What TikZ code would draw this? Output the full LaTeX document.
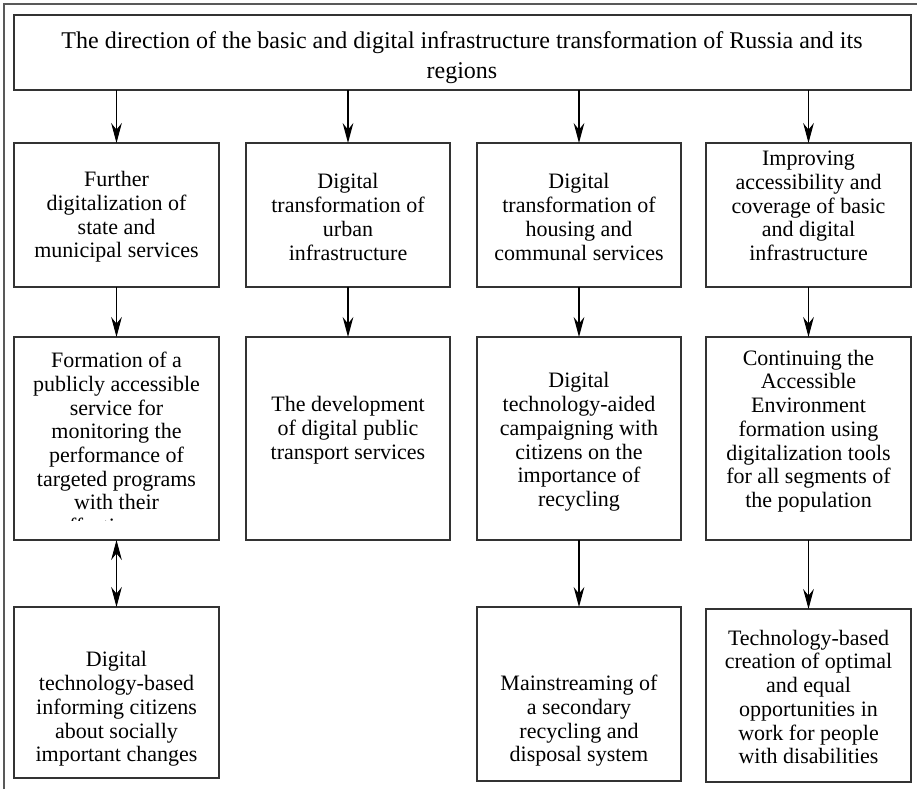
\documentclass[tikz,border=0pt]{standalone}
\usepackage{fontspec}
\setmainfont{Liberation Serif}
\usetikzlibrary{arrows.meta}
\begin{document}
\begin{tikzpicture}[x=0.75pt,y=-0.75pt,
  box/.style={draw=black!80,line width=1pt,inner sep=0pt,outer sep=0pt,anchor=north west},
  txt/.style={align=center,inner sep=0pt,font=\fontsize{16.5}{17.8}\selectfont},
  toptxt/.style={align=center,inner sep=0pt,font=\fontsize{18}{22.5}\selectfont},
  arr/.style={-{Stealth[length=15pt,width=8pt,inset=5pt]},line width=0.8pt},
  darr/.style={{Stealth[length=15pt,width=8pt,inset=5pt]}-{Stealth[length=15pt,width=8pt,inset=5pt]},line width=0.8pt},
  frame/.style={draw=black!65,line width=1.2pt}
]
\useasboundingbox (0,0) rectangle (917,789);
\draw[frame] (4,789) -- (4,4) -- (917,4);

% boxes
\node[box,minimum width=897*0.75pt,minimum height=75*0.75pt] (top) at (14,15) {};
\node[box,minimum width=205*0.75pt,minimum height=144*0.75pt] (b11) at (14,143) {};
\node[box,minimum width=204*0.75pt,minimum height=144*0.75pt] (b12) at (246,143) {};
\node[box,minimum width=204*0.75pt,minimum height=144*0.75pt] (b13) at (477,143) {};
\node[box,minimum width=205*0.75pt,minimum height=144*0.75pt] (b14) at (706,143) {};
\node[box,minimum width=205*0.75pt,minimum height=203*0.75pt] (b21) at (14,337) {};
\node[box,minimum width=204*0.75pt,minimum height=203*0.75pt] (b22) at (246,337) {};
\node[box,minimum width=204*0.75pt,minimum height=203*0.75pt] (b23) at (477,337) {};
\node[box,minimum width=205*0.75pt,minimum height=203*0.75pt] (b24) at (706,337) {};
\node[box,minimum width=205*0.75pt,minimum height=171*0.75pt] (b31) at (14,607) {};
\node[box,minimum width=204*0.75pt,minimum height=174*0.75pt] (b33) at (477,607) {};
\node[box,minimum width=205*0.75pt,minimum height=173*0.75pt] (b34) at (706,609) {};

% texts
\node[toptxt] (ttop) at (462,58) {The direction of the basic and digital infrastructure transformation of Russia and its\\regions};
\node[txt] (t11) at (116.5,217) {Further\\digitalization of\\state and\\municipal services};
\node[txt] (t12) at (348,217) {Digital\\transformation of\\urban\\infrastructure};
\node[txt] (t13) at (579,217) {Digital\\transformation of\\housing and\\communal services};
\node[txt] (t14) at (808.5,206) {Improving\\accessibility and\\coverage of basic\\and digital\\infrastructure};
\begin{scope}
  \clip (14,337) rectangle (219,520);
  \node[txt] (t21) at (116.5,443) {Formation of a\\publicly accessible\\service for\\monitoring the\\performance of\\targeted programs\\with their\\effectiveness};
\end{scope}
\node[txt] (t22) at (348,430) {The development\\of digital public\\transport services};
\node[txt] (t23) at (579,442) {Digital\\technology-aided\\campaigning with\\citizens on the\\importance of\\recycling};
\node[txt] (t24) at (808.5,431) {Continuing the\\Accessible\\Environment\\formation using\\digitalization tools\\for all segments of\\the population};
\node[txt] (t31) at (116.5,709) {Digital\\technology-based\\informing citizens\\about socially\\important changes};
\node[txt] (t33) at (579,721) {Mainstreaming of\\a secondary\\recycling and\\disposal system};
\node[txt] (t34) at (808.5,697) {Technology-based\\creation of optimal\\and equal\\opportunities in\\work for people\\with disabilities};

% connectors
\foreach \b in {b11,b12,b13,b14}{
  \draw[arr] (top.south -| \b.north) -- (\b.north);
}
\draw[arr] (b11.south) -- (b21.north);
\draw[arr] (b12.south) -- (b22.north);
\draw[arr] (b13.south) -- (b23.north);
\draw[arr] (b14.south) -- (b24.north);
\draw[darr] (b21.south) -- (b31.north);
\draw[arr] (b23.south) -- (b33.north);
\draw[arr] (b24.south) -- (b34.north);
\end{tikzpicture}
\end{document}
